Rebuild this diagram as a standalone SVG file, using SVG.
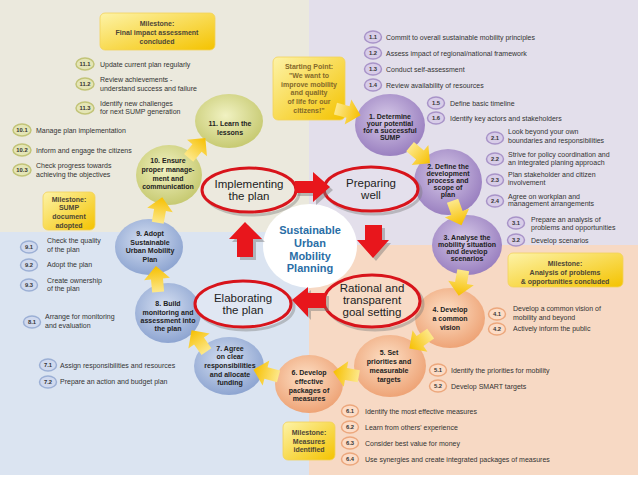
<svg xmlns="http://www.w3.org/2000/svg" width="638" height="479" viewBox="0 0 638 479">
<defs>
<radialGradient id="gg" cx="45%" cy="40%" r="60%"><stop offset="0" stop-color="#f1f2c2"/><stop offset="1" stop-color="#c7ca72"/></radialGradient>
<radialGradient id="gp" cx="45%" cy="40%" r="60%"><stop offset="0" stop-color="#d6c9e8"/><stop offset="1" stop-color="#9a80c0"/></radialGradient>
<radialGradient id="go" cx="45%" cy="40%" r="60%"><stop offset="0" stop-color="#fde0c6"/><stop offset="1" stop-color="#eea477"/></radialGradient>
<radialGradient id="gb" cx="45%" cy="40%" r="60%"><stop offset="0" stop-color="#d6e0f2"/><stop offset="1" stop-color="#8ea5d1"/></radialGradient>
<linearGradient id="gy" x1="0" y1="0" x2="1" y2="1"><stop offset="0" stop-color="#fdf3a8"/><stop offset="1" stop-color="#f4c300"/></linearGradient>
<linearGradient id="ga" x1="0" y1="0" x2="1" y2="0"><stop offset="0" stop-color="#fde88a"/><stop offset="1" stop-color="#f6bf00"/></linearGradient>
<path id="ya" d="M-13,-6 L0,-6 L0,-13 L13,0 L0,13 L0,6 L-13,6 Z"/>
</defs>
<style>
text{font-family:"Liberation Sans",Arial,sans-serif}
.t{font-size:7px;fill:#333}
.n{font-size:5.8px;font-weight:bold;fill:#333;text-anchor:middle}
.c{font-size:7px;font-weight:bold;fill:#222;text-anchor:middle}
.m{font-size:7px;font-weight:bold;fill:#4d4636;text-anchor:middle}
.s{font-size:7px;font-weight:bold;fill:#84692a;text-anchor:middle}
.e{font-size:11.5px;fill:#222;text-anchor:middle}
.og{fill:#e4e5b6;stroke:#c2c478;stroke-width:1.5}
.op{fill:#d8cde8;stroke:#a893c8;stroke-width:1.5}
.ob{fill:#d0d9ee;stroke:#9bafd5;stroke-width:1.5}
.oo{fill:#fcdcc6;stroke:#eca77c;stroke-width:1.5}
.box{fill:url(#gy);stroke:#f2d25a;stroke-width:0.8}
.red{stroke:#d8141b;stroke-width:3}
.sh{fill:none;stroke:#777;stroke-width:3;opacity:0.4}
.ra{fill:#e8161c}
.rs{fill:#777;opacity:0.45}
.yarrow{fill:url(#ga)}
</style>

<rect x="0" y="0" width="638" height="479" fill="#ffffff"/>
<rect x="0" y="0" width="309" height="232" fill="#ebe9dd"/>
<rect x="309" y="0" width="329" height="245" fill="#e3dfeb"/>
<rect x="0" y="232" width="309" height="243" fill="#dbe4f1"/>
<rect x="309" y="245" width="329" height="230" fill="#f7d9c4"/>

<g id="milestone-final">
<rect class="box" x="100" y="13" width="115" height="37" rx="5"/>
<text class="m"><tspan x="157" y="26">Milestone:</tspan><tspan x="157" y="35">Final impact assessment</tspan><tspan x="157" y="43.5">concluded</tspan></text>
</g>
<g id="starting-point">
<rect class="box" x="273" y="57" width="72" height="63" rx="5"/>
<text class="s"><tspan x="309" y="69">Starting Point:</tspan><tspan x="309" y="77.5">"We want to</tspan><tspan x="309" y="86.5">improve mobility</tspan><tspan x="309" y="95">and quality</tspan><tspan x="309" y="104">of life for our</tspan><tspan x="309" y="112.5">citizens!"</tspan></text>
</g>
<g id="milestone-sump">
<rect class="box" x="43" y="192" width="52" height="38" rx="5"/>
<text class="m"><tspan x="69" y="201.5">Milestone:</tspan><tspan x="69" y="209.5">SUMP</tspan><tspan x="69" y="218.5">document</tspan><tspan x="69" y="227.5">adopted</tspan></text>
</g>
<g id="milestone-analysis">
<rect class="box" x="508" y="253" width="115" height="34" rx="5"/>
<text class="m"><tspan x="565" y="265.5">Milestone:</tspan><tspan x="565" y="274.5">Analysis of problems</tspan><tspan x="565" y="283.5">&amp; opportunities concluded</tspan></text>
</g>
<g id="milestone-measures">
<rect class="box" x="283" y="422" width="52" height="38" rx="5"/>
<text class="m"><tspan x="309" y="435">Milestone:</tspan><tspan x="309" y="443.5">Measures</tspan><tspan x="309" y="452">identified</tspan></text>
</g>

<g id="activities-11">
<ellipse class="og" cx="85" cy="64" rx="9" ry="6"/><text class="n" x="85" y="66">11.1</text>
<text class="t" x="100" y="66.5">Update current plan regularly</text>
<ellipse class="og" cx="85" cy="84" rx="9" ry="6"/><text class="n" x="85" y="86">11.2</text>
<text class="t"><tspan x="100" y="81.5">Review achievements -</tspan><tspan x="100" y="90.5">understand success and failure</tspan></text>
<ellipse class="og" cx="85" cy="108" rx="9" ry="6"/><text class="n" x="85" y="110">11.3</text>
<text class="t"><tspan x="100" y="105.5">Identify new challenges</tspan><tspan x="100" y="113.5">for next SUMP generation</tspan></text>
</g>
<g id="activities-10">
<ellipse class="og" cx="22" cy="130" rx="9" ry="6"/><text class="n" x="22" y="132">10.1</text>
<text class="t" x="36" y="132.5">Manage plan implementation</text>
<ellipse class="og" cx="22" cy="150" rx="9" ry="6"/><text class="n" x="22" y="152">10.2</text>
<text class="t" x="36" y="152.5">Inform and engage the citizens</text>
<ellipse class="og" cx="22" cy="170" rx="9" ry="6"/><text class="n" x="22" y="172">10.3</text>
<text class="t"><tspan x="36" y="167.5">Check progress towards</tspan><tspan x="36" y="176.5">achieving the objectives</tspan></text>
</g>
<g id="activities-1">
<ellipse class="op" cx="373" cy="37" rx="8.5" ry="6"/><text class="n" x="373" y="39">1.1</text>
<text class="t" x="386" y="39.5">Commit to overall sustainable mobility principles</text>
<ellipse class="op" cx="373" cy="53" rx="8.5" ry="6"/><text class="n" x="373" y="55">1.2</text>
<text class="t" x="386" y="55.5">Assess impact of regional/national framework</text>
<ellipse class="op" cx="373" cy="69" rx="8.5" ry="6"/><text class="n" x="373" y="71">1.3</text>
<text class="t" x="386" y="71.5">Conduct self-assessment</text>
<ellipse class="op" cx="373" cy="85" rx="8.5" ry="6"/><text class="n" x="373" y="87">1.4</text>
<text class="t" x="386" y="87.5">Review availability of resources</text>
<ellipse class="op" cx="436" cy="103" rx="8.5" ry="6"/><text class="n" x="436" y="105">1.5</text>
<text class="t" x="450" y="105.5">Define basic timeline</text>
<ellipse class="op" cx="436" cy="118" rx="8.5" ry="6"/><text class="n" x="436" y="120">1.6</text>
<text class="t" x="450" y="120.5">Identify key actors and stakeholders</text>
</g>
<g id="activities-2">
<ellipse class="op" cx="495" cy="138" rx="8.5" ry="6"/><text class="n" x="495" y="140">2.1</text>
<text class="t"><tspan x="508" y="134">Look beyond your own</tspan><tspan x="508" y="142.5">boundaries and responsibilities</tspan></text>
<ellipse class="op" cx="495" cy="159" rx="8.5" ry="6"/><text class="n" x="495" y="161">2.2</text>
<text class="t"><tspan x="508" y="157">Strive for policy coordination and</tspan><tspan x="508" y="164.5">an integrated planing approach</tspan></text>
<ellipse class="op" cx="495" cy="180" rx="8.5" ry="6"/><text class="n" x="495" y="182">2.3</text>
<text class="t"><tspan x="508" y="177">Plan stakeholder and citizen</tspan><tspan x="508" y="185">involvement</tspan></text>
<ellipse class="op" cx="495" cy="201" rx="8.5" ry="6"/><text class="n" x="495" y="203">2.4</text>
<text class="t"><tspan x="508" y="198.5">Agree on workplan and</tspan><tspan x="508" y="205.5">management arrangements</tspan></text>
</g>
<g id="activities-3">
<ellipse class="op" cx="516" cy="223" rx="8.5" ry="6"/><text class="n" x="516" y="225">3.1</text>
<text class="t"><tspan x="531" y="221.5">Prepare an analysis of</tspan><tspan x="531" y="230">problems and opportunities</tspan></text>
<ellipse class="op" cx="516" cy="240" rx="8.5" ry="6"/><text class="n" x="516" y="242">3.2</text>
<text class="t" x="531" y="242.5">Develop scenarios</text>
</g>
<g id="activities-4">
<ellipse class="oo" cx="497" cy="314" rx="8.5" ry="6"/><text class="n" x="497" y="316">4.1</text>
<text class="t"><tspan x="513" y="311">Develop a common vision of</tspan><tspan x="513" y="319.5">mobility and beyond</tspan></text>
<ellipse class="oo" cx="497" cy="329" rx="8.5" ry="6"/><text class="n" x="497" y="331">4.2</text>
<text class="t" x="513" y="331">Actively inform the public</text>
</g>
<g id="activities-5">
<ellipse class="oo" cx="438" cy="370" rx="8.5" ry="6"/><text class="n" x="438" y="372">5.1</text>
<text class="t" x="451" y="372.5">Identify the priorities for mobility</text>
<ellipse class="oo" cx="438" cy="386" rx="8.5" ry="6"/><text class="n" x="438" y="388">5.2</text>
<text class="t" x="451" y="388.5">Develop SMART targets</text>
</g>
<g id="activities-6">
<ellipse class="oo" cx="350" cy="411" rx="8.5" ry="6"/><text class="n" x="350" y="413">6.1</text>
<text class="t" x="365" y="413.5">Identify the most effective measures</text>
<ellipse class="oo" cx="350" cy="427" rx="8.5" ry="6"/><text class="n" x="350" y="429">6.2</text>
<text class="t" x="365" y="429.5">Learn from others' experience</text>
<ellipse class="oo" cx="350" cy="443" rx="8.5" ry="6"/><text class="n" x="350" y="445">6.3</text>
<text class="t" x="365" y="445.5">Consider best value for money</text>
<ellipse class="oo" cx="350" cy="459" rx="8.5" ry="6"/><text class="n" x="350" y="461">6.4</text>
<text class="t" x="365" y="461.5">Use synergies and create integrated packages of measures</text>
</g>
<g id="activities-9">
<ellipse class="ob" cx="29" cy="247" rx="8.5" ry="6"/><text class="n" x="29" y="249">9.1</text>
<text class="t"><tspan x="47" y="243">Check the quality</tspan><tspan x="47" y="252">of the plan</tspan></text>
<ellipse class="ob" cx="29" cy="265" rx="8.5" ry="6"/><text class="n" x="29" y="267">9.2</text>
<text class="t" x="47" y="267">Adopt the plan</text>
<ellipse class="ob" cx="29" cy="285" rx="8.5" ry="6"/><text class="n" x="29" y="287">9.3</text>
<text class="t"><tspan x="47" y="282.5">Create ownership</tspan><tspan x="47" y="290.5">of the plan</tspan></text>
</g>
<g id="activities-8">
<ellipse class="ob" cx="32" cy="322" rx="8.5" ry="6"/><text class="n" x="32" y="324">8.1</text>
<text class="t"><tspan x="45" y="319">Arrange for monitoring</tspan><tspan x="45" y="327.5">and evaluation</tspan></text>
</g>
<g id="activities-7">
<ellipse class="ob" cx="48" cy="365" rx="8.5" ry="6"/><text class="n" x="48" y="367">7.1</text>
<text class="t" x="60" y="367.5">Assign responsibilities and resources</text>
<ellipse class="ob" cx="48" cy="382" rx="8.5" ry="6"/><text class="n" x="48" y="384">7.2</text>
<text class="t" x="60" y="384">Prepare an action and budget plan</text>
</g>

<g id="step11"><ellipse cx="229" cy="121" rx="34" ry="27" fill="url(#gg)"/>
<text class="c"><tspan x="230" y="125.5">11. Learn the</tspan><tspan x="230" y="134.5">lessons</tspan></text></g>
<g id="step10"><ellipse cx="169" cy="175" rx="33" ry="30" fill="url(#gg)"/>
<text class="c"><tspan x="168" y="163">10. Ensure</tspan><tspan x="168" y="172">proper manage-</tspan><tspan x="168" y="180.5">ment and</tspan><tspan x="168" y="189">communication</tspan></text></g>
<g id="step1"><ellipse cx="390" cy="125" rx="35" ry="31" fill="url(#gp)"/>
<text class="c"><tspan x="390" y="118.5">1. Determine</tspan><tspan x="390" y="125.5">your potential</tspan><tspan x="390" y="132.5">for a successful</tspan><tspan x="390" y="139.5">SUMP</tspan></text></g>
<g id="step2"><ellipse cx="448" cy="182" rx="34" ry="33" fill="url(#gp)"/>
<text class="c"><tspan x="448" y="168.5">2. Define the</tspan><tspan x="448" y="175.5">development</tspan><tspan x="448" y="182.5">process and</tspan><tspan x="448" y="189.5">scope of</tspan><tspan x="448" y="196.5">plan</tspan></text></g>
<g id="step3"><ellipse cx="467" cy="245" rx="35" ry="30" fill="url(#gp)"/>
<text class="c"><tspan x="467" y="239.5">3. Analyse the</tspan><tspan x="467" y="246.5">mobility situation</tspan><tspan x="467" y="253.5">and develop</tspan><tspan x="467" y="260.5">scenarios</tspan></text></g>
<g id="step4"><ellipse cx="450" cy="318" rx="35" ry="30" fill="url(#go)"/>
<text class="c"><tspan x="450" y="311.5">4. Develop</tspan><tspan x="450" y="320.5">a common</tspan><tspan x="450" y="329.5">vision</tspan></text></g>
<g id="step5"><ellipse cx="390" cy="366" rx="36" ry="31" fill="url(#go)"/>
<text class="c"><tspan x="389" y="354.5">5. Set</tspan><tspan x="389" y="364">priorities and</tspan><tspan x="389" y="373">measurable</tspan><tspan x="389" y="382">targets</tspan></text></g>
<g id="step6"><ellipse cx="309" cy="384" rx="34" ry="29" fill="url(#go)"/>
<text class="c"><tspan x="309" y="375">6. Develop</tspan><tspan x="309" y="383.5">effective</tspan><tspan x="309" y="392.5">packages of</tspan><tspan x="309" y="401">measures</tspan></text></g>
<g id="step7"><ellipse cx="229" cy="366" rx="35" ry="29" fill="url(#gb)"/>
<text class="c"><tspan x="230" y="350.5">7. Agree</tspan><tspan x="230" y="359">on clear</tspan><tspan x="230" y="368">responsibilities</tspan><tspan x="230" y="376.5">and allocate</tspan><tspan x="230" y="385">funding</tspan></text></g>
<g id="step8"><ellipse cx="168" cy="313" rx="33" ry="30" fill="url(#gb)"/>
<text class="c"><tspan x="168" y="305.5">8. Build</tspan><tspan x="168" y="314.5">monitoring and</tspan><tspan x="168" y="322.5">assessment into</tspan><tspan x="168" y="330.5">the plan</tspan></text></g>
<g id="step9"><ellipse cx="149" cy="247" rx="34" ry="28" fill="url(#gb)"/>
<text class="c"><tspan x="150" y="235.5">9. Adopt</tspan><tspan x="150" y="244.5">Sustainable</tspan><tspan x="150" y="253">Urban Mobility</tspan><tspan x="150" y="261.5">Plan</tspan></text></g>

<g id="center">
<ellipse cx="310" cy="246" rx="47" ry="42" fill="#ffffff"/>
<text font-size="11" font-weight="bold" fill="#2a6ea6" text-anchor="middle"><tspan x="310" y="234">Sustainable</tspan><tspan x="310" y="247">Urban</tspan><tspan x="310" y="259.5">Mobility</tspan><tspan x="310" y="272">Planning</tspan></text>
</g>
<g id="phase-implementing">
<ellipse class="sh" cx="252" cy="193" rx="47" ry="22"/>
<ellipse class="red" cx="249" cy="190" rx="47" ry="22" fill="#ece9de"/>
<text class="e"><tspan x="249" y="187.5">Implementing</tspan><tspan x="249" y="199.5">the plan</tspan></text>
</g>
<g id="phase-preparing">
<ellipse class="sh" cx="374" cy="192" rx="47" ry="22"/>
<ellipse class="red" cx="371" cy="189" rx="47" ry="22" fill="#e4e0ec"/>
<text class="e"><tspan x="371" y="187">Preparing</tspan><tspan x="371" y="199">well</tspan></text>
</g>
<g id="phase-rational">
<ellipse class="sh" cx="375" cy="304" rx="48" ry="26"/>
<ellipse class="red" cx="372" cy="301" rx="48" ry="26" fill="#f8dbc7"/>
<text class="e" font-size="11"><tspan x="372" y="292">Rational and</tspan><tspan x="372" y="304">transparent</tspan><tspan x="372" y="316">goal setting</tspan></text>
</g>
<g id="phase-elaborating">
<ellipse class="sh" cx="246" cy="307" rx="48" ry="23"/>
<ellipse class="red" cx="243" cy="304" rx="48" ry="23" fill="#e0e7f3"/>
<text class="e"><tspan x="243" y="302">Elaborating</tspan><tspan x="243" y="314">the plan</tspan></text>
</g>

<g id="connectors">
<g class="yarrow">
<use href="#ya" transform="translate(348,112) rotate(15)"/>
<use href="#ya" transform="translate(420,155) rotate(40)"/>
<use href="#ya" transform="translate(457,213) rotate(70)"/>
<use href="#ya" transform="translate(461,283) rotate(100)"/>
<use href="#ya" transform="translate(420,341) rotate(145)"/>
<use href="#ya" transform="translate(346,374) rotate(190)"/>
<use href="#ya" transform="translate(266,373) rotate(195)"/>
<use href="#ya" transform="translate(199,341) rotate(235)"/>
<use href="#ya" transform="translate(157,279) rotate(265)"/>
<use href="#ya" transform="translate(160,210) rotate(280)"/>
<use href="#ya" transform="translate(197,148) rotate(310)"/>
</g>
<polygon class="rs" points="298,184 316,184 316,175 333,190 316,205 316,196 298,196"/>
<polygon class="ra" points="295,181 313,181 313,172 330,187 313,202 313,193 295,193"/>
<polygon class="rs" points="368,228 385,228 385,243 391,243 376,261 360,243 368,243"/>
<polygon class="ra" points="365,225 382,225 382,240 389,240 373,258 357,240 365,240"/>
<polygon class="rs" points="329,296 311,296 311,290 295,303 311,320 311,311 329,311"/>
<polygon class="ra" points="326,293 308,293 308,287 292,300 308,317 308,308 326,308"/>
<polygon class="rs" points="240,260 240,242 232,242 248,225 265,242 256,242 256,260"/>
<polygon class="ra" points="237,257 237,239 229,239 245,222 262,239 253,239 253,257"/>
</g>
</svg>
